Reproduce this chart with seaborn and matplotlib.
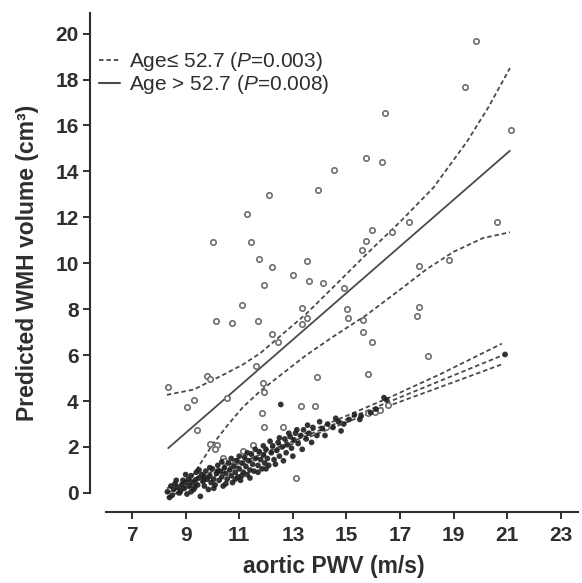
import pandas as pd
import seaborn as sns
import matplotlib.pyplot as plt
from matplotlib.lines import Line2D

# Age > 52.7 group (open circles)
old_pwv = [19.84, 19.43, 21.13, 16.44, 15.73, 16.32, 20.6, 18.83, 17.7, 17.72, 17.62, 15.63,
           15.63, 15.94, 17.35, 16.69, 15.94, 15.73, 15.57, 14.52, 13.95, 12.12, 11.3, 10.03,
           11.43, 11.73, 12.24, 13.02, 11.93, 13.52, 13.62, 14.14, 14.92, 11.12, 13.33, 10.13,
           10.72, 11.71, 13.52, 15.01, 15.05, 12.22, 12.44, 13.34, 11.62, 9.81, 9.91, 8.33,
           10.53, 11.9, 11.93, 13.92, 9.04, 9.32, 9.41, 11.84, 13.3, 13.83, 11.93, 12.65,
           14.24, 9.91, 10.16, 10.1, 11.53, 11.13, 10.41, 10.44, 10.84, 13.1, 18.03, 15.82,
           15.82, 16.07, 16.25, 16.56]
old_wmh = [19.7, 17.67, 15.8, 16.55, 14.6, 14.39, 11.79, 10.15, 9.9, 8.1, 7.71, 7.52,
           7.01, 6.58, 11.81, 11.38, 11.45, 10.95, 10.56, 14.06, 13.2, 12.97, 12.15, 10.92,
           10.92, 10.2, 9.83, 9.5, 9.04, 10.08, 9.21, 9.14, 8.92, 8.17, 8.06, 7.48,
           7.42, 7.49, 7.62, 8.0, 7.62, 6.94, 6.58, 7.35, 5.54, 5.09, 4.95, 4.63,
           4.15, 4.77, 4.41, 5.06, 3.72, 4.05, 2.75, 3.47, 3.8, 3.8, 2.86, 2.86,
           2.89, 2.13, 2.1, 1.92, 2.1, 1.84, 1.52, 1.37, 1.37, 0.65, 5.97, 5.18,
           3.47, 3.54, 3.61, 3.83]

# Age <= 52.7 group (filled dots)
young_pwv = [8.32, 8.4, 8.45, 8.55, 8.6, 8.7, 8.75, 8.85, 8.9, 8.95, 9.0,
             9.05, 9.1, 9.15, 9.2, 9.25, 9.3, 9.35, 9.4, 9.45, 9.5, 9.55, 9.6, 9.65, 9.7,
             9.75, 9.8, 9.85, 9.9, 9.95,
             10.0, 10.05, 10.1, 10.15, 10.2, 10.25, 10.3, 10.35, 10.4, 10.45, 10.5, 10.55,
             10.6, 10.65, 10.7, 10.75, 10.8, 10.85, 10.9, 10.95,
             11.0, 11.05, 11.1, 11.15, 11.2, 11.25, 11.3, 11.35, 11.4, 11.45, 11.5, 11.55,
             11.6, 11.7, 11.75, 11.8, 11.85, 11.9, 11.95,
             12.0, 12.05, 12.1, 12.2, 12.25, 12.3, 12.4, 12.45, 12.5, 12.55, 12.6, 12.7,
             12.75, 12.8, 12.9, 12.95,
             13.05, 13.1, 13.2, 13.3, 13.4, 13.5, 13.6, 13.75, 13.9,
             14.1, 14.3, 14.5, 14.7, 14.9, 15.1, 15.3, 15.5, 15.55, 15.9, 16.1, 16.4, 16.5,
             20.92,
             8.5, 8.65, 8.8, 9.0, 9.2, 9.35, 9.5, 9.7, 9.9, 10.05, 10.2, 10.35, 10.5, 10.7,
             10.85, 11.0, 11.1, 11.3, 11.4, 11.6, 11.7, 11.9, 12.0, 12.15, 12.35, 12.5,
             12.65, 12.85, 13.0, 13.15, 13.35, 13.55, 13.7, 14.0, 14.2, 14.6, 14.8]
young_wmh = [0.05, -0.2, 0.3, 0.15, 0.4, 0.25, 0.0, 0.35, 0.55, 0.2, 0.45,
             -0.05, 0.6, 0.3, 0.75, 0.45, 0.15, 0.55, 0.9, 0.35, 0.65, -0.15, 0.8, 0.5, 0.3,
             0.95, 0.6, 0.15, 0.75, 0.45,
             1.05, 0.6, 0.35, 0.85, 1.2, 0.55, 0.95, 0.7, 0.3, 1.1, 0.85, 0.6,
             1.3, 1.0, 0.75, 0.45, 1.15, 0.9, 1.4, 0.7,
             1.05, 0.55, 1.3, 0.9, 1.55, 1.15, 0.8, 1.4, 1.0, 1.7, 1.25, 0.95,
             1.5, 1.2, 1.8, 1.45, 1.05, 1.65, 1.3,
             1.9, 1.5, 1.2, 1.75, 2.05, 1.45, 1.85, 2.2, 1.6, 3.85, 2.0, 2.35,
             1.75, 2.1, 2.45, 1.95,
             2.3, 2.6, 2.15, 2.5, 2.75, 2.35, 2.6, 2.85, 2.5,
             2.8, 3.0, 2.85, 3.1, 3.0, 3.2, 3.4, 3.2, 3.35, 3.5, 3.65, 4.15, 4.05,
             6.03,
             -0.1, 0.55, 0.1, 0.8, 0.05, 0.25, 1.0, 0.7, 1.1, 0.2, 0.95, 1.35, 0.4, 1.5,
             0.6, 1.6, 0.75, 1.75, 0.65, 1.9, 0.9, 2.05, 1.05, 2.25, 1.25, 2.4,
             1.4, 2.6, 1.6, 2.75, 1.9, 2.95, 2.2, 3.1, 2.5, 3.25, 2.7]

# regression lines
old_fit_x = [8.35, 21.1]
old_fit_y = [1.95, 14.9]
old_up_x = [8.3, 9.3, 9.9, 10.5, 11.15, 11.8, 12.4, 13.0, 13.5, 14.5, 15.75, 17.0, 18.25, 19.5, 20.3, 21.1]
old_up_y = [4.27, 4.5, 4.85, 5.2, 5.6, 6.1, 6.7, 7.3, 7.8, 8.95, 10.4, 11.8, 13.3, 15.3, 16.8, 18.5]
old_lo_x = [8.8, 9.4, 10.0, 10.6, 11.15, 11.8, 12.4, 13.5, 14.5, 15.75, 17.0, 18.0, 19.0, 20.1, 21.1]
old_lo_y = [-0.1, 1.0, 2.1, 3.0, 3.75, 4.45, 5.0, 6.0, 6.8, 7.75, 8.85, 9.75, 10.5, 11.1, 11.35]

young_fit_x = [8.3, 20.9]
young_fit_y = [0.0, 6.03]
young_up_x = [8.3, 10.0, 12.0, 14.0, 16.5, 18.5, 20.8]
young_up_y = [0.2, 0.93, 1.87, 2.86, 4.1, 5.17, 6.5]
young_lo_x = [8.3, 10.0, 12.0, 14.0, 16.5, 18.5, 20.8]
young_lo_y = [-0.2, 0.69, 1.67, 2.62, 3.76, 4.61, 5.6]

x_ticks = list(range(7, 24, 2))
y_ticks = list(range(0, 21, 2))
labels = ['Age\u2264 52.7 ($P$=0.003)', 'Age > 52.7 ($P$=0.008)']

sns.set_style('ticks')
plt.rcParams['font.family'] = ['Liberation Sans', 'DejaVu Sans']
plt.rcParams['mathtext.fontset'] = 'custom'
plt.rcParams['mathtext.rm'] = 'Liberation Sans'
plt.rcParams['mathtext.it'] = 'Liberation Sans:italic'

ink = '#2e2e2e'
line_col = '#4a4a4a'
dash = (0, (2.5, 1.6))

fig = plt.figure(figsize=(5.82, 5.83), dpi=100)
ax = fig.add_axes([0.1541, 0.1218, 0.839, 0.856])

old = pd.DataFrame({'pwv': old_pwv, 'wmh': old_wmh})
young = pd.DataFrame({'pwv': young_pwv, 'wmh': young_wmh})

sns.scatterplot(data=old, x='pwv', y='wmh', ax=ax, marker='o', s=15,
                facecolor='white', edgecolor='#6e6e6e', linewidth=1.2, zorder=3)
sns.scatterplot(data=young, x='pwv', y='wmh', ax=ax, marker='o', s=17,
                color='#1e1e1e', edgecolor='none', alpha=0.9, zorder=4)

def draw_line(xs, ys, style):
    sns.lineplot(x=xs, y=ys, ax=ax, color=line_col, linewidth=1.3,
                 linestyle=style, errorbar=None, zorder=2)

draw_line(old_fit_x, old_fit_y, '-')
draw_line(old_up_x, old_up_y, dash)
draw_line(old_lo_x, old_lo_y, dash)
draw_line(young_fit_x, young_fit_y, dash)
draw_line(young_up_x, young_up_y, dash)
draw_line(young_lo_x, young_lo_y, dash)

ax.set_xlim(5.42, 23.64)
ax.set_ylim(-0.83, 20.9)
ax.set_xticks(x_ticks)
ax.set_yticks(y_ticks)
sns.despine(ax=ax)
ax.spines['left'].set_bounds(0, 20.9)
ax.spines['bottom'].set_bounds(6.03, 23.64)
for s in ['left', 'bottom']:
    ax.spines[s].set_linewidth(1.5)
    ax.spines[s].set_color(ink)
ax.tick_params(direction='out', length=5, width=1.4, color=ink,
               labelsize=15, labelcolor=ink)
ax.tick_params(axis='x', pad=5)
ax.tick_params(axis='y', pad=3)
for lab in ax.get_xticklabels() + ax.get_yticklabels():
    lab.set_fontweight('bold')

ax.set_xlabel('aortic PWV (m/s)', fontsize=16.5, fontweight='bold', color=ink, labelpad=7)
ax.set_ylabel('Predicted WMH volume (cm\u00b3)', fontsize=16.5, fontweight='bold',
              color=ink, labelpad=12)

handles = [Line2D([], [], color=line_col, lw=1.3, linestyle=dash),
           Line2D([], [], color=line_col, lw=1.5)]
leg = ax.legend(handles, labels, loc='upper left', bbox_to_anchor=(0.02, 0.925),
                frameon=False, fontsize=15, handlelength=1.0, handletextpad=0.4,
                labelspacing=0.0, borderaxespad=0, borderpad=0)
for t in leg.get_texts():
    t.set_color(ink)

fig.savefig('out.png', dpi=100)
